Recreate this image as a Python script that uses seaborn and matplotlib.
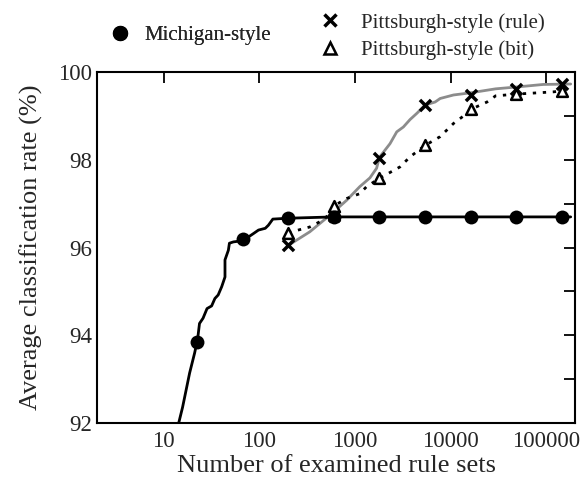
import numpy as np
import pandas as pd
import seaborn as sns
import matplotlib
matplotlib.use("Agg")
import matplotlib.pyplot as plt
from matplotlib.lines import Line2D
from matplotlib.ticker import FixedLocator, NullLocator, FixedFormatter

# ---------------- data ----------------
mich_curve_x = [13.8, 14.3, 15.7, 18.6, 21.0, 22.6, 23.6, 25.7, 28.3, 31.6, 34.2, 37.0, 40.3,
                43.6, 43.6, 47.3, 48.5, 53.4, 62.7, 70.7, 86.5, 97.7, 115, 124, 138, 200,
                600, 1800, 5400, 16200, 48600, 180000]
mich_curve_y = [91.9, 92.0, 92.36, 93.14, 93.6, 93.93, 94.27, 94.39, 94.61, 94.67, 94.84, 94.92, 95.11,
                95.33, 95.72, 95.94, 96.10, 96.13, 96.15, 96.19, 96.32, 96.40, 96.44, 96.51, 96.65, 96.67,
                96.70, 96.70, 96.70, 96.70, 96.70, 96.70]
pts_x = [200, 600, 1800, 5400, 16200, 48600, 145800]
mich_pts_x = [22.2, 66.7, 200, 600, 1800, 5400, 16200, 48600, 145800]
mich_pts_y = [93.85, 96.19, 96.68, 96.70, 96.70, 96.70, 96.70, 96.70, 96.70]

rule_curve_x = [200, 336, 546, 817, 1120, 1430, 1680, 1800, 2320, 2730, 3200, 3760, 4420, 5400,
                6880, 7760, 10700, 16200, 29500, 47500, 93000, 180000]
rule_curve_y = [96.05, 96.36, 96.74, 97.08, 97.39, 97.59, 97.81, 98.06, 98.37, 98.64, 98.75, 98.92, 99.06, 99.25,
                99.32, 99.40, 99.48, 99.53, 99.62, 99.66, 99.72, 99.73]
rule_pts_y = [96.05, 96.72, 98.04, 99.25, 99.49, 99.61, 99.72]

bit_curve_x = [200, 336, 464, 546, 600, 817, 1120, 1320, 1800, 2950, 3760, 5400, 7760, 10700,
               14800, 16200, 24000, 29500, 48600, 117000, 145800, 180000]
bit_curve_y = [96.34, 96.47, 96.63, 96.78, 96.95, 97.12, 97.23, 97.39, 97.58, 97.84, 98.07, 98.33, 98.53, 98.83,
               99.06, 99.15, 99.32, 99.46, 99.50, 99.55, 99.57, 99.57]
bit_pts_y = [96.34, 96.95, 97.58, 98.33, 99.15, 99.50, 99.57]

x_ticks = [10, 100, 1000, 10000, 100000]
x_tick_labels = ["10", "100", "1000", "10000", "100000"]
y_ticks = [92, 94, 96, 98, 100]
y_minor = [93, 95, 97, 99]

# ---------------- plotting ----------------
sns.set_style("white")
plt.rcParams["font.family"] = ["Liberation Serif", "DejaVu Serif"]
plt.rcParams["mathtext.fontset"] = "stix"

fig = plt.figure(figsize=(5.88, 4.78), dpi=100)
ax = fig.add_axes([0.165, 0.115, 0.813, 0.734])

mich_df = pd.DataFrame({"x": mich_curve_x, "y": mich_curve_y})
rule_df = pd.DataFrame({"x": rule_curve_x, "y": rule_curve_y})
bit_df = pd.DataFrame({"x": bit_curve_x, "y": bit_curve_y})

sns.lineplot(data=rule_df, x="x", y="y", ax=ax, estimator=None, sort=False,
             color="#8c8c8c", linewidth=2.0, zorder=2)
sns.lineplot(data=bit_df, x="x", y="y", ax=ax, estimator=None, sort=False,
             color="black", linewidth=2.0, linestyle=(0, (1.2, 2.4)), zorder=3)
sns.lineplot(data=mich_df, x="x", y="y", ax=ax, estimator=None, sort=False,
             color="black", linewidth=2.0, zorder=3)

sns.scatterplot(x=pts_x, y=rule_pts_y, ax=ax, marker="x", color="black",
                s=64, linewidth=2.5, zorder=5)
sns.scatterplot(x=pts_x, y=bit_pts_y, ax=ax, marker="^", facecolor="white",
                edgecolor="black", s=60, linewidth=1.8, zorder=5)
sns.scatterplot(x=mich_pts_x, y=mich_pts_y, ax=ax, marker="o", color="black",
                s=100, linewidth=0, zorder=6)

ax.set_xscale("log")
ax.set_xlim(2.0, 200000)
ax.set_ylim(92, 100)

ax.xaxis.set_major_locator(FixedLocator(x_ticks))
ax.xaxis.set_major_formatter(FixedFormatter(x_tick_labels))
ax.xaxis.set_minor_locator(NullLocator())
ax.yaxis.set_major_locator(FixedLocator(y_ticks))
ax.yaxis.set_minor_locator(FixedLocator(y_minor))

ax.tick_params(axis="both", which="both", direction="in", top=True, right=True,
               width=1.3, color="black")
ax.tick_params(axis="both", which="major", length=8, labelsize=16.5)
ax.tick_params(axis="x", which="major", pad=6)
ax.tick_params(axis="y", which="major", pad=3.5)
ax.tick_params(axis="both", which="minor", length=8)

for sp in ax.spines.values():
    sp.set_visible(True)
    sp.set_color("black")
    sp.set_linewidth(1.5)

ax.set_xlabel("Number of examined rule sets", fontsize=19, labelpad=2)
ax.set_ylabel("Average classification rate (%)", fontsize=19, labelpad=11)

# legends
h_m = Line2D([], [], marker="o", linestyle="none", color="black", markersize=10)
h_r = Line2D([], [], marker="x", linestyle="none", color="black", markersize=8, markeredgewidth=2.5)
h_b = Line2D([], [], marker="^", linestyle="none", markerfacecolor="white",
             markeredgecolor="black", markersize=8, markeredgewidth=1.8)

leg1 = fig.legend([h_m], ["Michigan-style"], loc="center left",
                  bbox_to_anchor=(110 / 588, 1 - 35.5 / 478), frameon=False,
                  fontsize=15, handlelength=1.0, handletextpad=0.67,
                  borderpad=0, borderaxespad=0)
leg2 = fig.legend([h_r, h_b], ["Pittsburgh-style (rule)", "Pittsburgh-style (bit)"],
                  loc="center left", bbox_to_anchor=(320 / 588, 1 - 36.5 / 478),
                  frameon=False, fontsize=15, handlelength=1.0, handletextpad=0.96,
                  borderpad=0, borderaxespad=0, labelspacing=0.38)
fig.add_artist(leg1)

fig.savefig("out.png", dpi=100)
